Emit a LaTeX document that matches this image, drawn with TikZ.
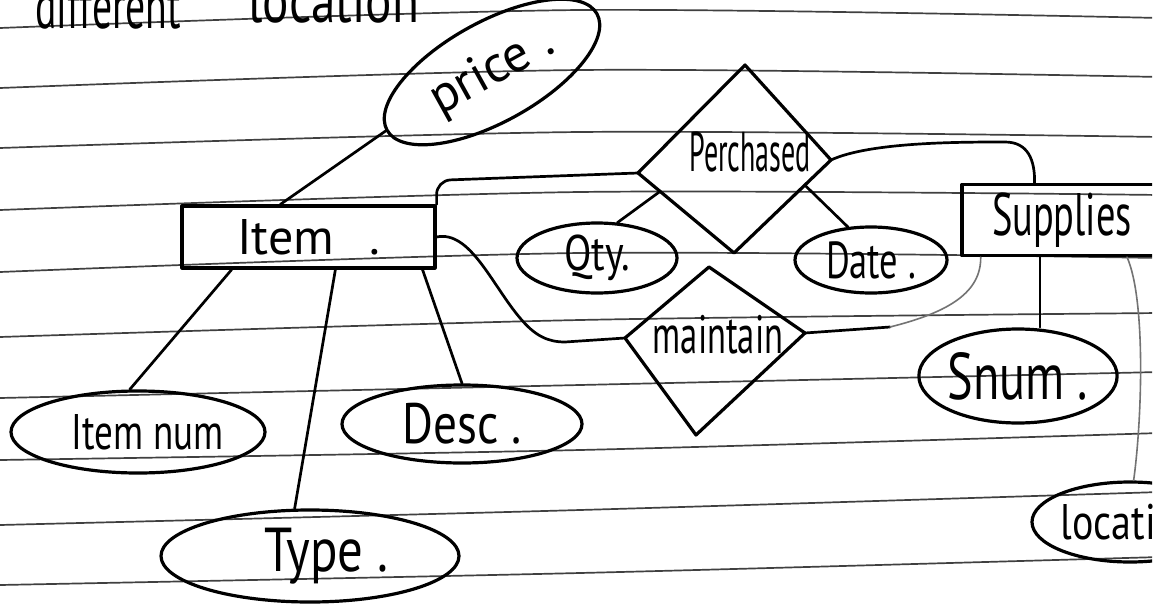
\documentclass[tikz,border=0pt]{standalone}
\usepackage{fontspec}
\setmainfont{PT Sans}
\usetikzlibrary{shapes.geometric,calc}
% handwritten-style label: size, horizontal squeeze, text
\newcommand\hw[3]{{\fontsize{#1}{#1}\selectfont\scalebox{#2}[1]{#3}}}

\begin{document}
\begin{tikzpicture}[x=1pt,y=-1pt,
  ink/.style={line width=3.2pt,black,line join=round},
  attr/.style={ink,draw,ellipse,inner sep=0pt},
  ent/.style={ink,draw,rectangle,inner sep=0pt},
  conn/.style={line width=2.7pt,black,line cap=round,line join=round},
  faint/.style={line width=1.6pt,black!55,line cap=round},
  rule/.style={line width=1.7pt,black!75},
  lbl/.style={inner sep=0pt}]
\useasboundingbox (0,0) rectangle (1160,608);
\fill[white] (0,0) rectangle (1160,608);
\begin{scope}
\clip (0,0) rectangle (1152,608);

% ruled notebook lines
\foreach \a/\b/\c in {28/10/18, 88/70/77, 148/132/137, 210/192/195, 272/253/258,
                      337/320/313, 398/385/372, 460/450/433, 525/510/492, 585/573/557}
  \draw[rule] plot[smooth] coordinates {(0,\a) (580,\b) (1160,\c)};

% heading line of the page, running off the top edge
\node[lbl,anchor=base west] (h1) at (35,28) {\hw{64}{0.62}{different}};
\node[lbl,anchor=base west] (h2) at (248,22) {\hw{64}{0.77}{location}};

% entities
\node[ent,minimum width=253,minimum height=62] (item) at (308.5,237)
  {\hw{50}{1}{Item\hspace{0.7em}.}};
\node[ent,minimum width=200,minimum height=71] (sup) at (1062,220)
  {\hw{60}{0.64}{Supplies}};

% attributes
\node[attr,rotate=29,minimum width=240,minimum height=100] (price) at (492,72)
  {\hw{52}{1}{price .}};
\node[attr,minimum width=254,minimum height=82] (itemnum) at (138,432)
  {\hw{50}{0.74}{\hspace{26pt}Item num}};
\node[attr,minimum width=240,minimum height=78] (desc) at (462,424)
  {\hw{57}{0.83}{Desc .}};
\node[attr,minimum width=298,minimum height=92] (type) at (310,556)
  {\hw{62}{0.82}{\hspace{40pt}Type .}};
\node[attr,minimum width=160,minimum height=70] (qty) at (597,258)
  {\hw{50}{0.8}{Qty.}};
\node[attr,minimum width=152,minimum height=66] (date) at (871,260)
  {\hw{52}{0.7}{Date .}};
\node[attr,minimum width=198,minimum height=94] (snum) at (1018,376)
  {\hw{66}{0.73}{Snum .}};
\node[attr,minimum width=190,minimum height=80] (loc) at (1130,522)
  {\hw{50}{0.8}{location}};

% relationship: Perchased
\coordinate (pt) at (745,65);
\coordinate (pr) at (831,160);
\coordinate (pb) at (734,253);
\coordinate (pl) at (638,173);
\draw[ink] (pt) -- (pr) -- (pb) -- (pl) -- cycle;
\node[lbl] (purch) at (750,152) {\hw{56}{0.5}{Perchased}};

% relationship: maintain
\coordinate (mt) at (709,267);
\coordinate (mr) at (805,333);
\coordinate (mb) at (696,435);
\coordinate (ml) at (625,338);
\draw[ink] (mt) -- (mr) -- (mb) -- (ml) -- cycle;
\node[lbl] (maint) at (718,335) {\hw{54}{0.64}{maintain}};

% attachment points on the entities
\coordinate (ia) at ($(item.south west)!0.20!(item.south east)$);
\coordinate (ib) at ($(item.south west)!0.605!(item.south east)$);
\coordinate (ic) at ($(item.south west)!0.945!(item.south east)$);
\coordinate (it) at ($(item.north west)!0.39!(item.north east)$);
\coordinate (st) at ($(sup.north west)!0.365!(sup.north east)$);
\coordinate (sa) at ($(sup.south west)!0.10!(sup.south east)$);
\coordinate (sp) at ($(sup.south west)!0.39!(sup.south east)$);
\coordinate (sl) at ($(sup.south west)!0.82!(sup.south east)$);
\coordinate (mj) at (890,327);

% connectors
\draw[conn] (price.west) -- (it);
\draw[conn] (ia) -- (itemnum.101);
\draw[conn] (ib) -- (type.108);
\draw[conn] (ic) -- (desc.north);
\draw[conn,rounded corners=14pt] (item.north east) -- ++(0,-24) -- (pl);
\draw[conn] (item.east) .. controls (470,230) and (492,285) .. (520,318)
  .. controls (535,336) and (548,342) .. (565,342) -- (ml);
\draw[conn] ($(pl)!0.23!(pb)$) -- (qty.60);
\draw[conn] ($(pr)!0.27!(pb)$) -- (date.125);
\draw[conn] (pr) .. controls (870,142) and (960,142) .. (1005,142)
  .. controls (1028,142) and (1035,160) .. (st);
\draw[conn] (mr) -- (mj);
\draw[faint] (mj) .. controls (950,312) and (981,292) .. (sa);
\draw[conn,line width=1.8pt] (sp) -- (sp |- snum.north);
\draw[faint] (sl) .. controls (1146,300) and (1142,420) .. (loc.85);
\end{scope}
\end{tikzpicture}
\end{document}
